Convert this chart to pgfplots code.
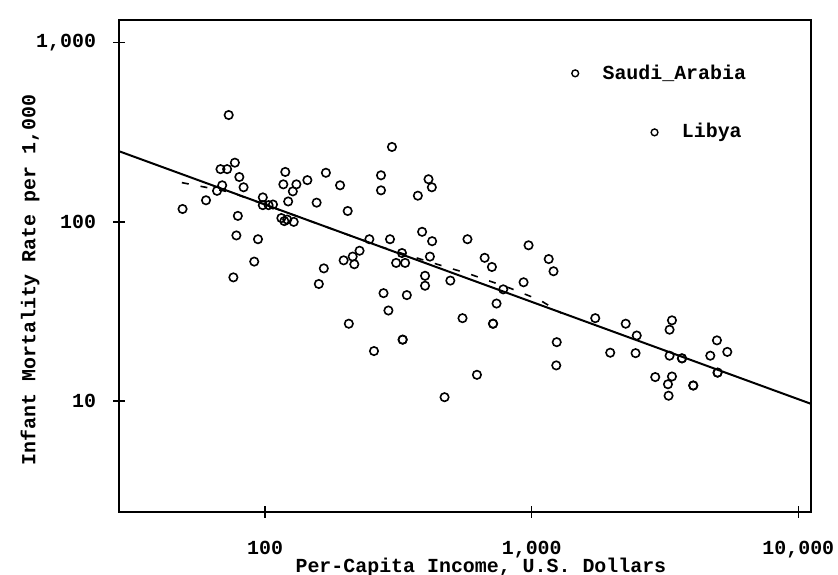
\documentclass[border=0pt]{standalone}
\usepackage{fontspec}
\setmainfont{Liberation Mono}
\usepackage{pgfplots}
\pgfplotsset{compat=1.18}
\usepackage{pgfplotstable}

\pgfplotstableread{
x y
73 395
77 214
68 197
72 197
80 178
83 156
69 160
66 149
60 132
49 118
79 108
78 84
94 80
91 60
76 49
119 190
117 162
131 162
127 148
144 171
169 188
191 160
122 130
156 128
98 137
98 124
103 124
107 125
115 105
118 101
121 103
128 100
204 115
299 262
272 182
272 150
410 173
422 156
374 140
246 80
294 80
388 88
423 78
574 80
973 74
226 69
213 64
197 61
216 58
326 67
310 59
335 59
415 64
398 50
398 44
495 47
666 63
709 56
1158 62
1207 53
932 46
782 42
738 35
278 40
340 39
290 32
206 27
550 29
716 27
716 27
328 22
328 22
256 19
623 14
471 10.5
1241 21.3
1236 15.8
1731 29
1970 18.6
2252 27
2477 23.2
2452 18.5
3358 28.2
3289 25
3289 17.9
3661 17.3
3661 17.3
2906 13.6
3358 13.7
3244 12.4
3261 10.7
4036 12.2
4036 12.2
4952 21.8
5415 18.8
4675 17.9
4979 14.4
4979 14.4
166 55
159 45
}\maindata

\pgfplotstableread{
x y label
1456 675 Saudi\_Arabia
2889 316 Libya
}\labeled

\pgfplotstableread{
x y
48.7 165.6
57 158.2
73.9 146.6
135.3 105.9
270.1 72.8
416 59.6
587.7 51.0
830.6 42.6
1076 36.5
1293 30.9
}\smooth

\begin{document}
\begin{tikzpicture}[font=\bfseries\fontsize{10}{12}\selectfont]
\begin{axis}[
  at={(0,0)}, anchor=south west,
  scale only axis, width=346bp, height=246bp,
  xmode=log, ymode=log,
  xmin=28.3, xmax=11160, ymin=2.4, ymax=1340,
  xtick={100,1000,10000}, xticklabels={100,{1,000},{10,000}},
  ytick={10,100,1000}, yticklabels={10,100,{1,000}},
  xminorticks=false, yminorticks=false,
  tick align=center, major tick length=6bp,
  xtick pos=bottom, ytick pos=left,
  axis line style={line width=0.8bp},
  every tick/.style={black, line width=0.7bp},
  xticklabel style={font=\bfseries\fontsize{10}{12}\selectfont, yshift=-8bp},
  yticklabel style={font=\bfseries\fontsize{10}{12}\selectfont, xshift=-5bp},
  xlabel={Per-Capita Income, U.S. Dollars},
  ylabel={Infant Mortality Rate per 1,000},
  xlabel style={at={(axis description cs:0.523,-0.1118)}, anchor=center, font=\bfseries\fontsize{10}{12}\selectfont},
  ylabel style={at={(axis description cs:-0.1286,0.4715)}, anchor=center, font=\bfseries\fontsize{10}{12}\selectfont},
  clip=true,
]
\addplot[black, line width=1bp, no marks] coordinates {(28.3,248) (11160,9.64)};
\addplot[black, line width=0.8bp, no marks, dash pattern=on 3.5bp off 6bp] table {\smooth};
\addplot[only marks, mark=o, mark size=2.1bp, mark options={line width=0.8bp, black}] table {\maindata};
\addplot[only marks, mark=o, mark size=1.7bp, mark options={line width=0.7bp, black},
  nodes near coords, point meta=explicit symbolic,
  every node near coord/.append style={anchor=west, xshift=10bp, font=\bfseries\fontsize{10}{12}\selectfont}]
  table[meta=label] {\labeled};
\end{axis}
\pgfresetboundingbox
\path[use as bounding box] (-59.5bp,-31.5bp) rectangle (359.5bp,256bp);
\end{tikzpicture}
\end{document}
